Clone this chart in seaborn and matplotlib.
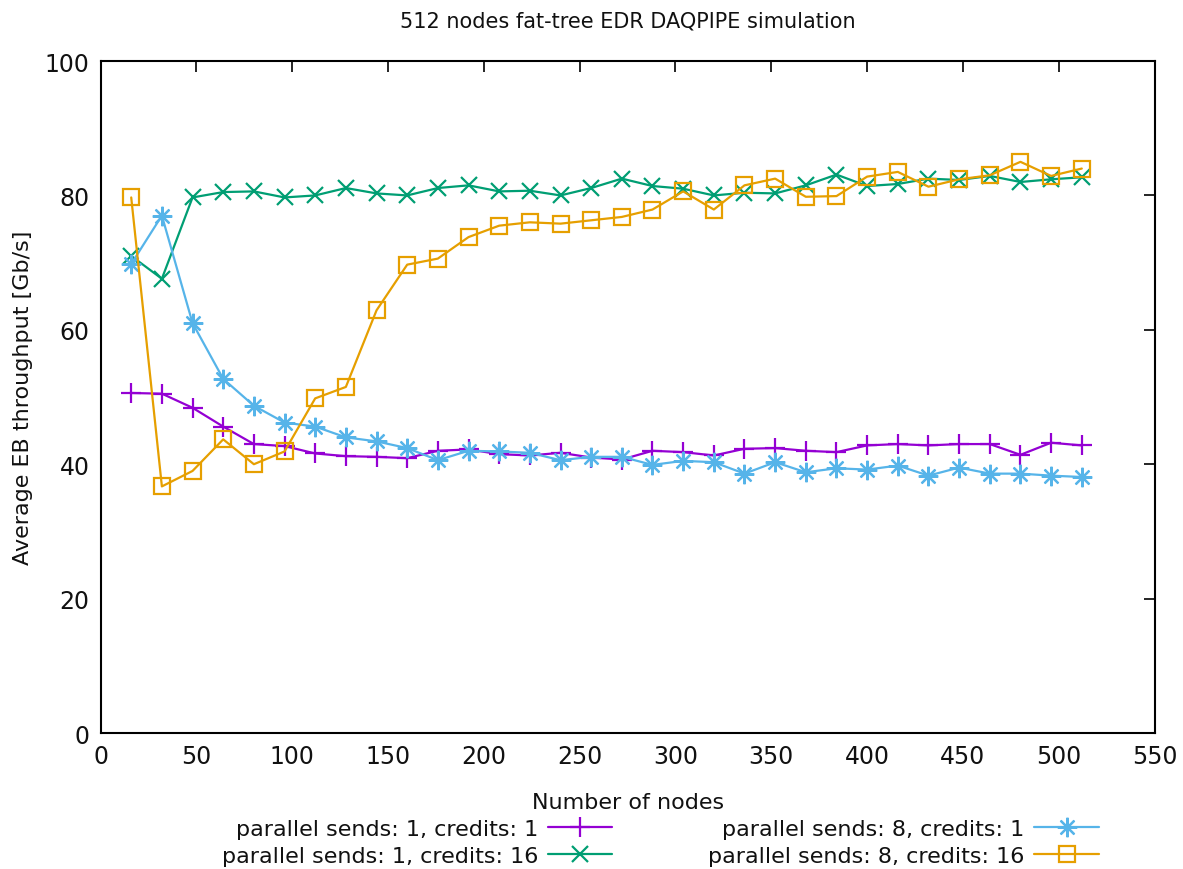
import matplotlib
matplotlib.use("Agg")
import matplotlib.pyplot as plt
import seaborn as sns
import pandas as pd

nodes = [16, 32, 48, 64, 80, 96, 112, 128, 144, 160, 176, 192, 208, 224, 240, 256,
         272, 288, 304, 320, 336, 352, 368, 384, 400, 416, 432, 448, 464, 480, 496, 512]

ps1_c1 = [50.6, 50.5, 48.4, 45.6, 43.0, 42.7, 41.6, 41.2, 41.1, 40.9,
          42.0, 42.2, 41.5, 41.3, 41.7, 41.0, 40.7, 42.0, 41.8, 41.3,
          42.3, 42.4, 42.0, 41.8, 42.8, 43.0, 42.8, 43.0, 43.0, 41.4,
          43.2, 42.8]
ps1_c16 = [71.0, 67.6, 79.7, 80.5, 80.6, 79.7, 80.0, 81.1, 80.3, 80.0,
           81.1, 81.5, 80.6, 80.7, 80.0, 81.1, 82.5, 81.4, 81.0, 80.0,
           80.4, 80.3, 81.5, 83.1, 81.4, 81.7, 82.5, 82.3, 82.9, 82.0,
           82.4, 82.7]
ps8_c1 = [69.8, 77.0, 61.0, 52.7, 48.7, 46.2, 45.6, 44.0, 43.4, 42.4,
          40.6, 42.0, 41.9, 41.7, 40.6, 41.1, 41.1, 39.9, 40.5, 40.3,
          38.6, 40.3, 38.8, 39.4, 39.2, 39.8, 38.3, 39.5, 38.6, 38.6,
          38.3, 38.1]
ps8_c16 = [79.7, 36.7, 39.0, 43.7, 40.0, 41.9, 49.8, 51.5, 62.9, 69.7,
           70.6, 73.8, 75.5, 76.0, 75.8, 76.3, 76.8, 77.9, 80.6, 77.9,
           81.5, 82.5, 79.8, 79.9, 82.8, 83.5, 81.3, 82.4, 83.0, 85.0,
           82.9, 84.0]

labels = ["parallel sends: 1, credits: 1", "parallel sends: 1, credits: 16",
          "parallel sends: 8, credits: 1", "parallel sends: 8, credits: 16"]
series = [ps1_c1, ps1_c16, ps8_c1, ps8_c16]
colors = ["#9400d3", "#009e73", "#56b4e9", "#e69f00"]
markers = ["+", "x", (8, 2, 0), "s"]
msizes = [14, 12, 14, 11]

sns.set_style("white")
plt.rcParams["font.family"] = ["DejaVu Sans"]
plt.rcParams["text.color"] = "#111111"
plt.rcParams["axes.labelcolor"] = "#111111"

fig = plt.figure(figsize=(11.83, 8.70), dpi=100)
ax = fig.add_axes([0.085, 0.1563, 0.891, 0.7724])

for lab, ys, c, m, ms in zip(labels, series, colors, markers, msizes):
    df = pd.DataFrame({"x": nodes, "y": ys})
    kw = dict(marker=m, markersize=ms, color=c, linewidth=1.6, label=lab,
              markeredgewidth=1.6, markeredgecolor=c)
    if m == "s":
        kw["markerfacecolor"] = "none"
    sns.lineplot(data=df, x="x", y="y", ax=ax, **kw)

ax.set_xlim(0, 550)
ax.set_ylim(0, 100)
ax.set_xticks(range(0, 551, 50))
ax.set_yticks(range(0, 101, 20))
ax.tick_params(direction="in", length=8, width=1.2, top=True, right=True,
               labelsize=17, pad=8, colors="black", labelcolor="#111111")
for sp in ax.spines.values():
    sp.set_color("black")
    sp.set_linewidth(1.5)
    sp.set_visible(True)

ax.set_xlabel("Number of nodes", fontsize=16, labelpad=17)
ax.set_ylabel("Average EB throughput [Gb/s]", fontsize=16, labelpad=8)
ax.set_title("512 nodes fat-tree EDR DAQPIPE simulation", fontsize=15, pad=25)

ax.legend(loc="upper center", bbox_to_anchor=(0.531, -0.128), ncol=2,
          frameon=False, markerfirst=False, fontsize=16, handlelength=2.9,
          columnspacing=4.3, labelspacing=0.3, handletextpad=0.45,
          borderaxespad=0, borderpad=0)

fig.savefig("out.png", dpi=100)
